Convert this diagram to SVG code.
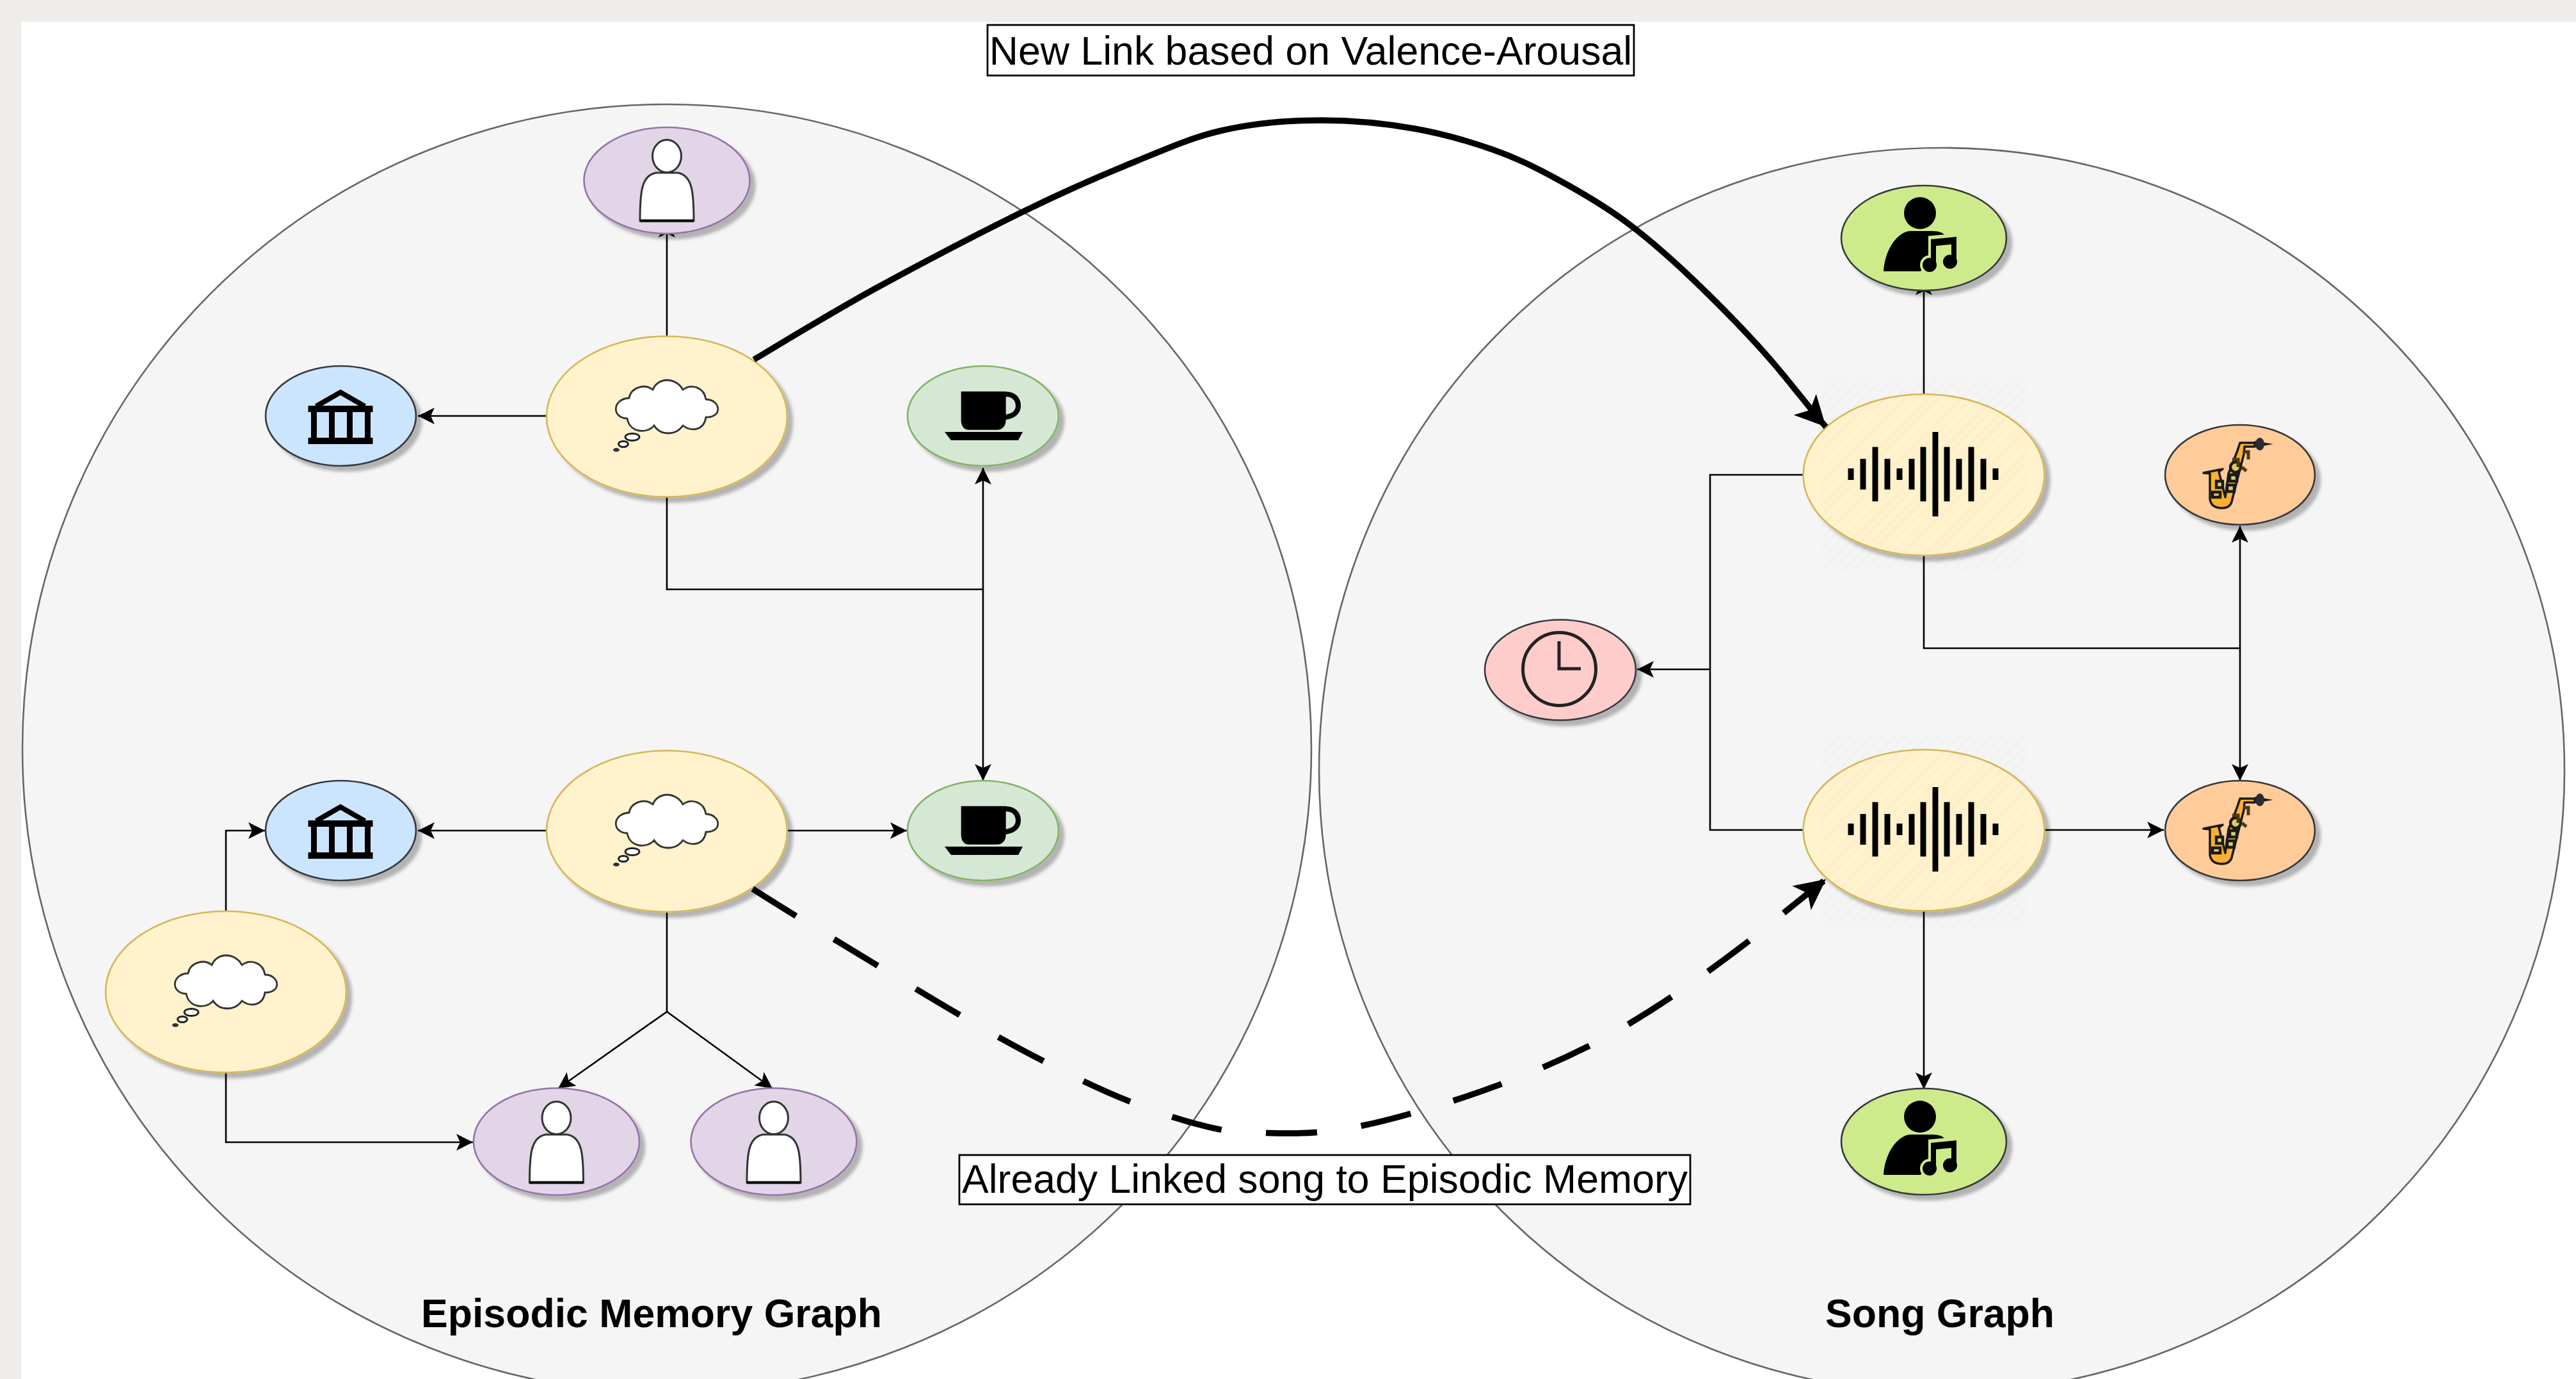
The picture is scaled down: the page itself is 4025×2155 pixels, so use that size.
<svg xmlns="http://www.w3.org/2000/svg" xmlns:xlink="http://www.w3.org/1999/xlink" width="4025" height="2155" viewBox="0 0 4025 2155">
<style>
.big{fill:#f5f5f5;stroke:#666;stroke-width:2.6}
.c{fill:none;stroke:#000;stroke-width:2.6}
.thick{fill:none;stroke:#000;stroke-width:9.5}
.yellow{fill:#fff2cc;stroke:#d6b656;stroke-width:2.6;filter:url(#sh)}
.purple{fill:#e1d5e7;stroke:#9673a6;stroke-width:2.6;filter:url(#sh)}
.blue{fill:#cce5ff;stroke:#36393d;stroke-width:2.6;filter:url(#sh)}
.green{fill:#d5e8d4;stroke:#82b366;stroke-width:2.6;filter:url(#sh)}
.lime{fill:#cdeb8b;stroke:#36393d;stroke-width:2.6;filter:url(#sh)}
.peach{fill:#ffcc99;stroke:#36393d;stroke-width:2.6;filter:url(#sh)}
.pink{fill:#ffcccc;stroke:#36393d;stroke-width:2.6;filter:url(#sh)}
.label{fill:#fff;stroke:#000;stroke-width:2.8}
.hatch{fill:url(#hp)}
text{font-family:"Liberation Sans",Arial,sans-serif;fill:#000}
.lt{font-size:62.6px;text-anchor:middle}
.ti{font-size:62.6px;font-weight:bold;text-anchor:middle}
</style>
<defs>
<filter id="sh" x="-10%" y="-10%" width="125%" height="125%"><feDropShadow dx="8" dy="8" stdDeviation="2.5" flood-color="#000" flood-opacity="0.27"/></filter>
<pattern id="hp" patternUnits="userSpaceOnUse" width="12" height="12" patternTransform="rotate(45)"><rect width="5" height="12" fill="#000" opacity="0.012"/></pattern>
<marker id="a" markerUnits="userSpaceOnUse" markerWidth="28" markerHeight="28" refX="26" refY="13" orient="auto"><path d="M0 0L26 13L0 26L6 13Z" fill="#000"/></marker>
<marker id="b" markerUnits="userSpaceOnUse" markerWidth="50" markerHeight="50" refX="48" refY="24" orient="auto"><path d="M0 0L48 24L0 48L12 24Z" fill="#000"/></marker>
<g id="cloud"><path d="M-59 -29C-56 -46 -34 -52 -22 -42C-14 -62 14 -62 25 -42C38 -52 58 -46 61 -27C85 -26 87 2 61 1C58 22 38 24 25 14C14 30 -10 30 -20 14C-30 27 -58 26 -62 3C-87 2 -85 -28 -59 -29Z" fill="#fff" stroke="#333" stroke-width="2.8"/><ellipse cx="-54" cy="32" rx="11" ry="5.500" fill="#fff" stroke="#222" stroke-width="2.8"/><ellipse cx="-68" cy="43" rx="7.500" ry="4.500" fill="#fff" stroke="#222" stroke-width="3"/><ellipse cx="-79" cy="52" rx="5" ry="3" fill="#333"/></g>
<g id="person"><ellipse cx="0" cy="-37" rx="22.5" ry="25.5" fill="#fff" stroke="#333" stroke-width="3"/><path d="M-42 64C-42 20 -40 -7 -17 -11L17 -11C40 -7 42 20 42 64Z" fill="#fff" stroke="#333" stroke-width="3"/><path d="M-42 64H42" stroke="#111" stroke-width="4.5"/></g>
<g id="bank" fill="#000"><rect x="-50.500" y="-16" width="101" height="10"/><rect x="-50.500" y="34" width="101" height="10"/><rect x="-46" y="-10" width="9" height="46"/><rect x="-18" y="-10" width="9" height="46"/><rect x="10" y="-10" width="9" height="46"/><rect x="38" y="-10" width="9" height="46"/><path d="M-38 -15L0 -37L38 -15" fill="none" stroke="#000" stroke-width="8"/></g>
<g id="coffee"><path d="M-34.300 -38.300H35.700V6C35.700 16 30 21.700 22 21.700H-22C-30 21.700 -34.300 16 -34.300 6Z" fill="#000"/><path d="M35 -34C52 -34 55 -22 55 -16C55 -8 50 0 35 2" fill="none" stroke="#000" stroke-width="8"/><path d="M-60 25H62L55 38H-50Z" fill="#000"/></g>
<g id="singer"><circle cx="-6" cy="-39" r="25" fill="#000"/><path d="M-63 52C-60 10 -35 -12 -20 -11H12C25 -11 30 -8 33 -4L10 -2V30L-5 52Z" fill="#000"/><path d="M15 42V4L50 1V34" fill="none" stroke="#cdeb8b" stroke-width="16"/><circle cx="9" cy="42" r="15" fill="#cdeb8b"/><path d="M15 44V6M47 37V2" fill="none" stroke="#000" stroke-width="8"/><path d="M11 2L51 -2V9L11 13Z" fill="#000"/><circle cx="9" cy="42" r="11" fill="#000"/><circle cx="41" cy="37" r="11" fill="#000"/></g>
<g id="sax"><path d="M-57 -3L-27 -9L-33 -5L-23 35L-18 -2L-5 -35L0 -50H23V-44H7L6 -32L-3 3L-12 38Q-14 52 -28 52Q-45 52 -47 38V-2Z" fill="#fbb12d" stroke="#1a1a1a" stroke-width="3.500" stroke-linejoin="round"/><g fill="#d8cf62" stroke="#1a1a1a" stroke-width="4.500"><circle cx="-7" cy="-12" r="8"/><rect x="-16" y="0" width="11" height="10"/><rect x="-20" y="16" width="11" height="10"/><rect x="-37" y="10" width="10" height="10"/><rect x="-43" y="27" width="12" height="8"/></g><path d="M-12 -24H-3V-12M3 -12L10 -6M6 -36H13V-24" fill="none" stroke="#4a3a12" stroke-width="5"/><path d="M23 -53L52 -48L23 -43Z" fill="#1a1a1a"/><ellipse cx="31" cy="-48" rx="7" ry="10" fill="#2b2b33"/></g>
<path id="wave" d="M-114 -9V9M-95 -24V24M-76 -42.500V42.500M-57 -24V24M-38 -9V9M-19 -24V24M-1 -42.500V42.500M18 -66V66M36 -42.500V42.500M55 -24V24M74 -42.500V42.500M93 -24V24M112 -9V9" fill="none" stroke="#000" stroke-width="9"/>
</defs>

<rect id="page" x="0" y="0" width="4025" height="2155" fill="#eeede9"/>
<rect x="33" y="34" width="3992" height="2121" fill="#fff"/>
<g id="graph-areas">
<circle id="episodic-area" class="big" cx="1042" cy="1170" r="1007"/>
<circle id="song-area" class="big" cx="3034" cy="1204" r="973"/>
</g>

<g id="connectors">
<path class="c" d="M1042 526V345" marker-end="url(#a)"/>
<path class="c" d="M855 650H653" marker-end="url(#a)"/>
<path class="c" d="M1042 775V921H1536V731" marker-end="url(#a)"/>
<path class="c" d="M1536 921V1220" marker-end="url(#a)"/>
<path class="c" d="M855 1298H653" marker-end="url(#a)"/>
<path class="c" d="M1230 1298H1417" marker-end="url(#a)"/>
<path class="c" d="M1042 1425V1581L872 1701" marker-end="url(#a)"/>
<path class="c" d="M1042 1581L1207 1701" marker-end="url(#a)"/>
<path class="c" d="M353 1427V1298H414" marker-end="url(#a)"/>
<path class="c" d="M353 1676V1785H739" marker-end="url(#a)"/>
<path class="c" d="M3006 616V435" marker-end="url(#a)"/>
<path class="c" d="M2817 742H2672V1297H2817"/>
<path class="c" d="M2672 1046H2558" marker-end="url(#a)"/>
<path class="c" d="M3006 868V1013H3500V822" marker-end="url(#a)"/>
<path class="c" d="M3500 1013V1220" marker-end="url(#a)"/>
<path class="c" d="M3195 1297H3381" marker-end="url(#a)"/>
<path class="c" d="M3006 1424V1702" marker-end="url(#a)"/>
</g>

<g id="node-person-top"><ellipse class="purple" cx="1042" cy="282" rx="129.500" ry="83"/><use href="#person" x="1042" y="281"/></g>
<g id="node-thought-1"><ellipse class="yellow" cx="1042" cy="651" rx="188" ry="125.500"/><use href="#cloud" x="1042" y="651"/></g>
<g id="node-place-1"><ellipse class="blue" cx="532.500" cy="650" rx="117.500" ry="78"/><use href="#bank" x="532" y="650"/></g>
<g id="node-coffee-1"><ellipse class="green" cx="1536" cy="650" rx="118" ry="78"/><use href="#coffee" x="1536" y="650"/></g>
<g id="node-thought-2"><ellipse class="yellow" cx="1042" cy="1299" rx="188" ry="126"/><use href="#cloud" x="1042" y="1299"/></g>
<g id="node-place-2"><ellipse class="blue" cx="532.500" cy="1298" rx="117.500" ry="78"/><use href="#bank" x="532" y="1298"/></g>
<g id="node-coffee-2"><ellipse class="green" cx="1536" cy="1298" rx="118" ry="78"/><use href="#coffee" x="1536" y="1298"/></g>
<g id="node-thought-3"><ellipse class="yellow" cx="353" cy="1550" rx="188" ry="126"/><use href="#cloud" x="353" y="1550"/></g>
<g id="node-person-left"><ellipse class="purple" cx="869.500" cy="1784" rx="129.500" ry="83.500"/><use href="#person" x="869.500" y="1784"/></g>
<g id="node-person-right"><ellipse class="purple" cx="1209" cy="1784" rx="129.500" ry="83.500"/><use href="#person" x="1209" y="1784"/></g>

<g id="node-singer-1"><ellipse class="lime" cx="3006" cy="372" rx="129" ry="82"/><use href="#singer" x="3006" y="372"/></g>
<g id="node-song-1"><ellipse class="yellow" cx="3006" cy="742" rx="188.500" ry="126"/><rect class="hatch" x="2845" y="591" width="322" height="301"/><use href="#wave" x="3006" y="741"/></g>
<g id="node-sax-1"><ellipse class="peach" cx="3500" cy="742" rx="117" ry="78"/><use href="#sax" x="3500" y="742"/></g>
<g id="node-clock"><ellipse class="pink" cx="2438" cy="1047" rx="118" ry="78.500"/><g fill="none" stroke="#222" stroke-width="5"><circle cx="2436.500" cy="1045.500" r="57"/><path d="M2436 1002V1045H2470"/></g></g>
<g id="node-song-2"><ellipse class="yellow" cx="3006" cy="1297.500" rx="188.500" ry="126"/><rect class="hatch" x="2845" y="1147" width="322" height="301"/><use href="#wave" x="3006" y="1296"/></g>
<g id="node-sax-2"><ellipse class="peach" cx="3500" cy="1298" rx="117" ry="78"/><use href="#sax" x="3500" y="1298"/></g>
<g id="node-singer-2"><ellipse class="lime" cx="3006" cy="1784" rx="129" ry="83"/><use href="#singer" x="3006" y="1784"/></g>

<g id="links">
<path class="thick" marker-end="url(#b)" d="M1178 562C1210 543 1303 486 1373 448C1443 410 1529 365 1596 332C1663 299 1723 273 1775 252C1827 231 1861 215 1909 204C1957 193 2015 188 2065 188C2115 188 2165 193 2210 201C2255 209 2296 221 2333 234C2370 247 2398 261 2433 280C2468 299 2508 322 2545 350C2582 378 2620 412 2657 448C2694 484 2736 527 2768 564C2800 601 2838 651 2853 667"/>
<path class="thick" stroke-dasharray="80 69.500" marker-end="url(#b)" d="M1176 1389C1240 1430 1304 1468 1368 1507C1455 1560 1540 1612 1630 1658C1720 1705 1810 1745 1910 1766C1945 1770 1985 1771 2020 1771C2085 1771 2145 1757 2205 1740C2300 1713 2392 1680 2482 1635C2570 1590 2655 1530 2736 1468C2775 1437 2813 1405 2853 1374"/>
</g>

<g id="label-new"><rect class="label" x="1543" y="39" width="1010" height="79"/><text class="lt" x="2048" y="101">New Link based on Valence-Arousal</text></g>
<g id="label-linked"><rect class="label" x="1499" y="1805" width="1142" height="77"/><text class="lt" x="2070" y="1864">Already Linked song to Episodic Memory</text></g>
<g id="title-episodic"><text class="ti" x="1018" y="2074">Episodic Memory Graph</text></g>
<g id="title-song"><text class="ti" x="3031" y="2074">Song Graph</text></g>
</svg>
